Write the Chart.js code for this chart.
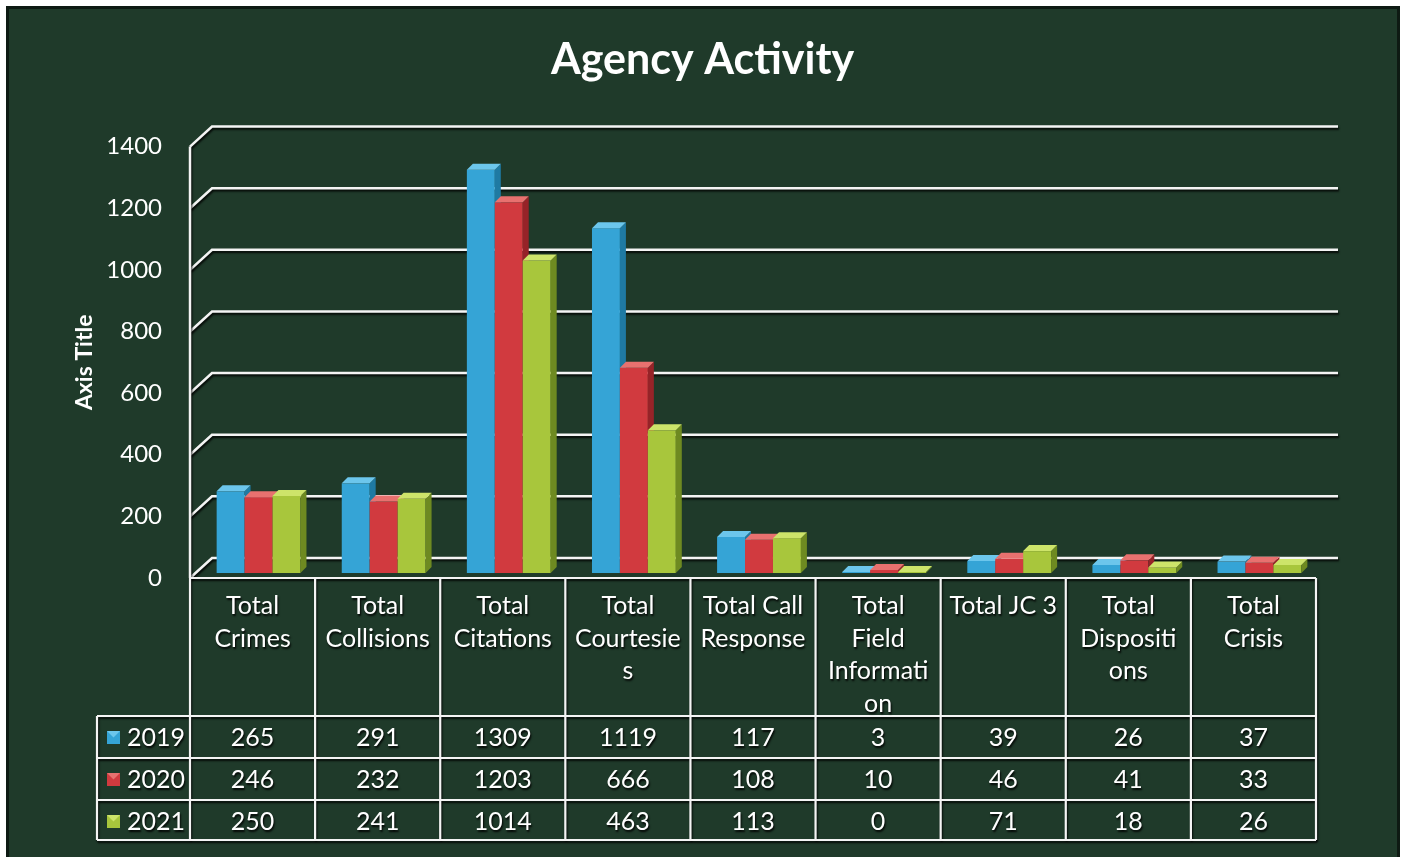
<!DOCTYPE html>
<html>
<head>
<meta charset="utf-8">
<script src="https://cdn.jsdelivr.net/npm/chart.js"></script>
<style>
  html, body { margin: 0; padding: 0; background: #ffffff; }
  canvas { display: block; }
</style>
</head>
<body>
<canvas id="chart" width="1405" height="857"></canvas>
<script>
// Categories as wrapped in the reference table header
const categories = [
  ['Total', 'Crimes'],
  ['Total', 'Collisions'],
  ['Total', 'Citations'],
  ['Total', 'Courtesie', 's'],
  ['Total Call', 'Response'],
  ['Total', 'Field', 'Informati', 'on'],
  ['Total JC 3'],
  ['Total', 'Dispositi', 'ons'],
  ['Total', 'Crisis']
];
const years = ['2019', '2020', '2021'];
const values2019 = [265, 291, 1309, 1119, 117, 3, 39, 26, 37];
const values2020 = [246, 232, 1203, 666, 108, 10, 46, 41, 33];
const values2021 = [250, 241, 1014, 463, 113, 0, 71, 18, 26];
const yTicks = [0, 200, 400, 600, 800, 1000, 1200, 1400];

const seriesValues = [values2019, values2020, values2021];
const frontColors = ['#35a4d6', '#d13a3f', '#a8c63c'];
const topColors = ['#6cc6ec', '#e8716f', '#cde46a'];
const sideColors = ['#1f7aa3', '#962328', '#6e8a21'];

const BG = '#1f3a2a';
const FONT = 'Lato, "Open Sans", sans-serif';
const DX = 6, DY = 6;          // bar depth
const WALL_DX = 22, WALL_DY = 20; // back wall offset
const SHIFT_X = 6, SHIFT_Y = -5;  // bars sit mid-depth

const bgPlugin = {
  id: 'bg',
  beforeDraw(chart) {
    const ctx = chart.ctx;
    ctx.save();
    ctx.fillStyle = '#ffffff';
    ctx.fillRect(0, 0, chart.width, chart.height);
    ctx.fillStyle = '#0e1a13';
    ctx.fillRect(6, 6, 1394, 851);
    ctx.fillStyle = BG;
    ctx.fillRect(9, 9, 1388, 848);
    ctx.restore();
  }
};

function whiteLine(ctx) {
  ctx.strokeStyle = '#f4f4f4';
  ctx.lineWidth = 2.5;
  ctx.shadowColor = 'rgba(0,0,0,0.85)';
  ctx.shadowOffsetY = 2;
  ctx.shadowOffsetX = 1;
  ctx.shadowBlur = 2;
}

const wallPlugin = {
  id: 'wall',
  beforeDatasetsDraw(chart) {
    const ctx = chart.ctx;
    const y = chart.scales.y;
    const area = chart.chartArea;
    ctx.save();
    whiteLine(ctx);
    yTicks.forEach(v => {
      const py = y.getPixelForValue(v);
      ctx.beginPath();
      ctx.moveTo(area.left, py);
      ctx.lineTo(area.left + WALL_DX, py - WALL_DY);
      ctx.lineTo(area.right + WALL_DX, py - WALL_DY);
      ctx.stroke();
    });
    ctx.beginPath();
    ctx.moveTo(area.left, y.getPixelForValue(1400));
    ctx.lineTo(area.left, area.bottom);
    ctx.stroke();
    ctx.restore();
  }
};

const bars3dPlugin = {
  id: 'bars3d',
  afterDatasetsDraw(chart) {
    const ctx = chart.ctx;
    ctx.save();
    ctx.translate(SHIFT_X, SHIFT_Y);
    categories.forEach((c, i) => {
      for (let d = 0; d < seriesValues.length; d++) {
        const bar = chart.getDatasetMeta(d).data[i];
        const p = bar.getProps(['x', 'y', 'base', 'width'], true);
        const l = p.x - p.width / 2, r = p.x + p.width / 2;
        const top = Math.min(p.y, p.base - 1);
        // front
        ctx.fillStyle = frontColors[d];
        ctx.fillRect(l, top, p.width, p.base - top);
        // side
        ctx.fillStyle = sideColors[d];
        ctx.beginPath();
        ctx.moveTo(r, top);
        ctx.lineTo(r + DX, top - DY);
        ctx.lineTo(r + DX, p.base - DY);
        ctx.lineTo(r, p.base);
        ctx.closePath();
        ctx.fill();
        // top
        ctx.fillStyle = topColors[d];
        ctx.beginPath();
        ctx.moveTo(l, top);
        ctx.lineTo(l + DX, top - DY);
        ctx.lineTo(r + DX, top - DY);
        ctx.lineTo(r, top);
        ctx.closePath();
        ctx.fill();
      }
    });
    ctx.restore();
  }
};

const tablePlugin = {
  id: 'table',
  afterDraw(chart) {
    const ctx = chart.ctx;
    const x = chart.scales.x;
    const area = chart.chartArea;
    const colW = (area.right - area.left) / categories.length;
    const top = area.bottom;
    const rowTops = [top + 138, top + 180, top + 222];
    const bottom = top + 262;
    const legendLeft = 97;

    ctx.save();
    whiteLine(ctx);
    ctx.lineWidth = 2.2;
    // horizontal lines
    ctx.beginPath();
    ctx.moveTo(area.left, top); ctx.lineTo(area.right, top);
    rowTops.concat([bottom]).forEach(ry => {
      ctx.moveTo(legendLeft, ry); ctx.lineTo(area.right, ry);
    });
    // vertical lines
    for (let k = 0; k <= categories.length; k++) {
      const vx = area.left + k * colW;
      ctx.moveTo(vx, top); ctx.lineTo(vx, bottom);
    }
    ctx.moveTo(legendLeft, rowTops[0]); ctx.lineTo(legendLeft, bottom);
    ctx.stroke();

    // text
    ctx.shadowColor = 'rgba(0,0,0,0.9)';
    ctx.shadowOffsetX = 1;
    ctx.shadowOffsetY = 2;
    ctx.shadowBlur = 2;
    ctx.fillStyle = '#ffffff';
    ctx.font = '25px ' + FONT;
    ctx.textAlign = 'center';
    ctx.textBaseline = 'middle';
    categories.forEach((lines, i) => {
      const cx = x.getPixelForValue(i);
      lines.forEach((ln, j) => ctx.fillText(ln, cx, top + 28 + j * 32.5));
      seriesValues.forEach((vals, d) => {
        ctx.fillText(String(vals[i]), cx, rowTops[d] + 22);
      });
    });

    // legend keys
    ctx.textAlign = 'left';
    years.forEach((yr, d) => {
      const cy = rowTops[d] + 22;
      ctx.fillText(yr, 127, cy);
      ctx.shadowColor = 'transparent';
      const kx = 107, ky = cy - 7, ks = 13;
      ctx.fillStyle = frontColors[d];
      ctx.fillRect(kx, ky, ks, ks);
      ctx.fillStyle = topColors[d];
      ctx.beginPath();
      ctx.moveTo(kx, ky); ctx.lineTo(kx + ks, ky); ctx.lineTo(kx + ks / 2, ky + ks / 2);
      ctx.closePath(); ctx.fill();
      ctx.fillStyle = '#ffffff';
      ctx.shadowColor = 'rgba(0,0,0,0.9)';
    });
    ctx.restore();
  }
};

new Chart(document.getElementById('chart'), {
  type: 'bar',
  data: {
    labels: categories,
    datasets: years.map((yr, d) => ({
      label: yr,
      data: seriesValues[d],
      backgroundColor: 'rgba(0,0,0,0)',
      borderWidth: 0,
      categoryPercentage: 0.67,
      barPercentage: 1.0
    }))
  },
  options: {
    responsive: false,
    animation: false,
    layout: { padding: { left: 89, right: 89, top: 0, bottom: 279 } },
    plugins: {
      legend: { display: false },
      tooltip: { enabled: false },
      title: {
        display: true,
        text: 'Agency Activity',
        color: '#ffffff',
        font: { family: FONT, size: 43, weight: 'bold', lineHeight: 1.2 },
        padding: { top: 34, bottom: 61 }
      }
    },
    scales: {
      x: { display: false },
      y: {
        min: 0,
        max: 1400,
        afterBuildTicks(scale) { scale.ticks = yTicks.map(v => ({ value: v })); },
        afterFit(scale) { scale.width = 101; },
        grid: { display: false, drawTicks: false },
        border: { display: false },
        ticks: {
          color: '#ffffff',
          padding: 28,
          font: { family: FONT, size: 24 },
          callback: (v) => String(v)
        },
        title: {
          display: true,
          text: 'Axis Title',
          color: '#ffffff',
          padding: { top: -18, bottom: 0 },
          font: { family: FONT, size: 23, weight: 'bold' }
        }
      }
    }
  },
  plugins: [bgPlugin, wallPlugin, bars3dPlugin, tablePlugin]
});
</script>
</body>
</html>
